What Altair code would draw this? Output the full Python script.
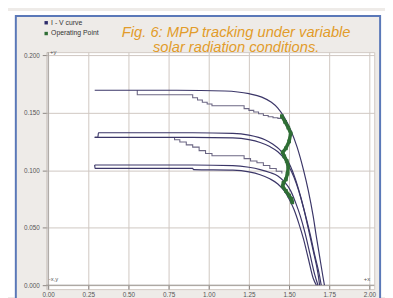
import altair as alt
import pandas as pd

# ---- data ----
x_ticks = [0.0, 0.25, 0.5, 0.75, 1.0, 1.25, 1.5, 1.75, 2.0]
y_ticks = [0.0, 0.025, 0.05, 0.075, 0.1, 0.125, 0.15, 0.175, 0.2]

# smooth I-V curves
a1_x = [0.29, 0.80, 1.10, 1.25, 1.33, 1.39, 1.43, 1.47, 1.51, 1.55, 1.59, 1.62, 1.65, 1.67, 1.69, 1.71, 1.72]
a1_y = [0.1695, 0.1695, 0.1688, 0.1665, 0.1635, 0.159, 0.154, 0.146, 0.135, 0.120, 0.100, 0.082, 0.060, 0.042, 0.025, 0.008, 0.0]

b1_x = [0.29, 0.31, 0.313, 0.90, 1.15, 1.25, 1.31, 1.35, 1.40, 1.44, 1.48, 1.51, 1.54, 1.57, 1.60, 1.63, 1.66, 1.69, 1.70]
b1_y = [0.1285, 0.1285, 0.1325, 0.1325, 0.132, 0.1305, 0.1285, 0.1265, 0.1225, 0.118, 0.111, 0.103, 0.092, 0.078, 0.062, 0.045, 0.026, 0.008, 0.0]

b2_x = [0.29, 0.90, 1.15, 1.25, 1.32, 1.38, 1.43, 1.47, 1.50, 1.53, 1.56, 1.59, 1.62, 1.65, 1.68, 1.69]
b2_y = [0.1285, 0.1285, 0.128, 0.1265, 0.124, 0.1205, 0.116, 0.110, 0.103, 0.094, 0.082, 0.067, 0.049, 0.030, 0.010, 0.0]

c1_x = [0.29, 0.90, 1.15, 1.25, 1.32, 1.38, 1.43, 1.47, 1.51, 1.54, 1.57, 1.60, 1.63, 1.66, 1.68]
c1_y = [0.1045, 0.1045, 0.104, 0.1025, 0.1005, 0.098, 0.095, 0.090, 0.082, 0.072, 0.060, 0.045, 0.027, 0.009, 0.0]

c2_x = [0.29, 0.292, 0.90, 0.905, 1.15, 1.25, 1.32, 1.38, 1.43, 1.47, 1.50, 1.53, 1.56, 1.59, 1.62, 1.65, 1.67]
c2_y = [0.1045, 0.1015, 0.1015, 0.1005, 0.100, 0.0985, 0.096, 0.0925, 0.088, 0.082, 0.075, 0.066, 0.054, 0.040, 0.023, 0.006, 0.0]

# stepped tracking traces (level held from each x until the next x)
a2_x = [0.555, 0.555, 0.90, 0.93, 0.96, 0.99, 1.02, 1.22, 1.25, 1.28, 1.31, 1.34, 1.37, 1.40, 1.43, 1.46]
a2_y = [0.1695, 0.1655, 0.163, 0.161, 0.159, 0.1575, 0.156, 0.1535, 0.152, 0.1505, 0.149, 0.1475, 0.1465, 0.1455, 0.145, 0.145]

b3_x = [0.787, 0.787, 0.82, 0.86, 0.90, 0.94, 0.98, 1.02, 1.22, 1.26, 1.30, 1.34, 1.38, 1.42, 1.455]
b3_y = [0.1285, 0.1265, 0.1245, 0.122, 0.120, 0.117, 0.1145, 0.1125, 0.110, 0.108, 0.1065, 0.104, 0.1015, 0.099, 0.097]

# operating point trajectory
op_x = [1.455, 1.475, 1.495, 1.51, 1.50, 1.48, 1.46, 1.47, 1.485, 1.495, 1.49, 1.48, 1.465, 1.46, 1.48, 1.50, 1.515, 1.52]
op_y = [0.147, 0.142, 0.137, 0.132, 0.125, 0.119, 0.1155, 0.112, 0.108, 0.103, 0.097, 0.092, 0.089, 0.086, 0.082, 0.078, 0.075, 0.072]

legend_names = ["I - V curve", "Operating Point"]
legend_colors = ["#2c2a6a", "#2f6e35"]
title_lines = ["Fig. 6: MPP tracking under variable", "solar radiation conditions."]

IV_COLOR = "#3b3668"
STEP_COLOR = "#6c6784"
OP_COLOR = "#2f6e35"


def rows(name, kind, xs, ys):
    return [{"series": name, "kind": kind, "x": x, "y": y, "i": i}
            for i, (x, y) in enumerate(zip(xs, ys))]


records = []
records += rows("A1", "smooth", a1_x, a1_y)
records += rows("B1", "smooth", b1_x, b1_y)
records += rows("B2", "smooth", b2_x, b2_y)
records += rows("C1", "smooth", c1_x, c1_y)
records += rows("C2", "smooth", c2_x, c2_y)
records += rows("A2", "step", a2_x, a2_y)
records += rows("B3", "step", b3_x, b3_y)
records += rows("OP", "op", op_x, op_y)
df = pd.DataFrame(records)

W, H = 335, 242

xs = alt.Scale(domain=[-0.012, 2.03], nice=False, zero=False)
ys = alt.Scale(domain=[-0.0034, 0.2026], nice=False, zero=False)

X = alt.X("x:Q", scale=xs,
          axis=alt.Axis(values=x_ticks, format=".2f", title=None, offset=-4))
Y = alt.Y("y:Q", scale=ys,
          axis=alt.Axis(values=y_ticks, format=".3f", title=None))

base = alt.Chart(df)
blank = alt.Chart(pd.DataFrame({"a": [0]}))

# decorative slide frame
strip_left = blank.mark_rect(color="white").encode(
    x=alt.value(-39), x2=alt.value(-32), y=alt.value(-42), y2=alt.value(250))
strip_top = blank.mark_rect(color="white").encode(
    x=alt.value(-39), x2=alt.value(346), y=alt.value(-42), y2=alt.value(-37))
strip_right = blank.mark_rect(color="white").encode(
    x=alt.value(342), x2=alt.value(346), y=alt.value(-42), y2=alt.value(250))
frame = blank.mark_rect(fillOpacity=0, stroke="#5a78b8", strokeWidth=2).encode(
    x=alt.value(-31), x2=alt.value(341), y=alt.value(-37), y2=alt.value(262))

zero_x = blank.mark_rule(color="#9a9490", strokeWidth=1).encode(x=alt.datum(0.0))
zero_y = blank.mark_rule(color="#9a9490", strokeWidth=1).encode(y=alt.datum(0.0))

steps = base.transform_filter(alt.datum.kind == "step").mark_line(
    interpolate="step-after", color=STEP_COLOR, strokeWidth=1.1).encode(
    x=X, y=Y, detail="series:N", order="i:Q")

smooth = base.transform_filter(alt.datum.kind == "smooth").mark_line(
    interpolate="monotone", strokeWidth=1.2, color=IV_COLOR).encode(
    x=X, y=Y, detail="series:N", order="i:Q")

op_line = base.transform_filter(alt.datum.kind == "op").mark_line(
    strokeWidth=3.5, color=OP_COLOR).encode(x=X, y=Y, order="i:Q")
op_pts = base.transform_filter(alt.datum.kind == "op").mark_square(
    size=14, opacity=1, color=OP_COLOR).encode(x=X, y=Y)

ax_txt = pd.DataFrame({"t": ["+y", "-x,y", "+x"],
                       "x": [0.012, 0.004, 1.965],
                       "y": [0.2, 0.003, 0.003]})
axis_labels = alt.Chart(ax_txt).mark_text(
    fontSize=6, color="#555", align="left", baseline="bottom",
    font="Liberation Sans").encode(
    x=alt.X("x:Q", scale=xs), y=alt.Y("y:Q", scale=ys), text="t:N")

# key (legend) in the top-left corner of the frame
key_sym = [
    alt.Chart(pd.DataFrame({"c": [legend_colors[k]]})).mark_square(size=12, opacity=1)
    .encode(x=alt.value(0), y=alt.value(-30 + 11 * k), color=alt.ColorValue(legend_colors[k]))
    for k in range(2)
]
key_txt = [
    alt.Chart(pd.DataFrame({"t": [legend_names[k]]})).mark_text(
        fontSize=7, font="Liberation Sans", color="#333", align="left", baseline="middle")
    .encode(x=alt.value(5), y=alt.value(-30 + 11 * k), text="t:N")
    for k in range(2)
]

title_marks = [
    alt.Chart(pd.DataFrame({"t": [title_lines[k]]})).mark_text(
        fontSize=15, font="Liberation Sans", fontStyle="italic", color="#e29c2a",
        align="center", baseline="alphabetic")
    .encode(x=alt.value(194), y=alt.value(-15 + 15 * k), text="t:N")
    for k in range(2)
]

chart = alt.layer(
    strip_left, strip_top, strip_right, frame,
    zero_x, zero_y, steps, smooth, op_line, op_pts, axis_labels,
    *key_sym, *key_txt, *title_marks
).properties(
    width=W, height=H,
    autosize=alt.AutoSizeParams(type="none"),
    padding={"left": 39, "top": 42, "right": 11, "bottom": 6},
    background="#eeebe8",
).configure_view(
    fill="white", stroke="#d2cac4"
).configure_axis(
    grid=True, gridColor="#cfc7c1", gridWidth=1, domain=False,
    tickColor="#8a8480", tickSize=4, labelFontSize=6.5,
    labelFont="Liberation Sans", labelColor="#555", labelPadding=3
)

chart.save("out.html", embed_options={"renderer": "svg", "actions": False})
